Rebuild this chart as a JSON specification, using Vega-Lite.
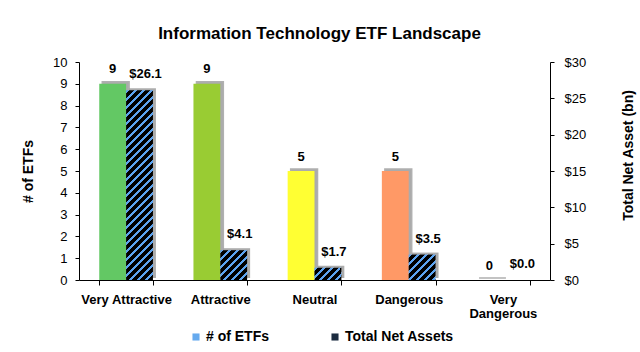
{
  "$schema": "https://vega.github.io/schema/vega-lite/v6.json",
  "width": 471,
  "height": 218,
  "autosize": {"type": "none"},
  "padding": {"left": 79, "top": 62, "right": 90, "bottom": 72},
  "background": "white",
  "title": {
    "text": "Information Technology ETF Landscape",
    "fontSize": 17,
    "fontWeight": "bold",
    "font": "Liberation Sans",
    "color": "#000000",
    "anchor": "middle",
    "dx": 5,
    "offset": 13
  },
  "data": {
    "values": [
      {"cat": "Very Attractive", "series": "# of ETFs", "value": 9},
      {"cat": "Attractive", "series": "# of ETFs", "value": 9},
      {"cat": "Neutral", "series": "# of ETFs", "value": 5},
      {"cat": "Dangerous", "series": "# of ETFs", "value": 5},
      {"cat": "Very Dangerous", "series": "# of ETFs", "value": 0},
      {"cat": "Very Attractive", "series": "Total Net Assets", "value": 26.1},
      {"cat": "Attractive", "series": "Total Net Assets", "value": 4.1},
      {"cat": "Neutral", "series": "Total Net Assets", "value": 1.7},
      {"cat": "Dangerous", "series": "Total Net Assets", "value": 3.5},
      {"cat": "Very Dangerous", "series": "Total Net Assets", "value": 0.0}
    ]
  },
  "encoding": {
    "x": {
      "field": "cat",
      "type": "nominal",
      "scale": {"domain": ["Very Attractive", "Attractive", "Neutral", "Dangerous", "Very Dangerous"], "paddingInner": 0.43, "paddingOuter": 0.215},
      "axis": {
        "title": null,
        "labelAngle": 0,
        "labelFontSize": 13,
        "labelFontWeight": "bold",
        "labelPadding": 8,
        "labelLineHeight": 14,
        "labelExpr": "datum.label == 'Very Dangerous' ? ['Very', 'Dangerous'] : datum.label",
        "tickBand": "extent",
        "tickSize": 5
      }
    }
  },
  "layer": [
    {
      "transform": [{"filter": "datum.series == '# of ETFs'"}],
      "encoding": {
        "y": {
          "field": "value",
          "type": "quantitative",
          "scale": {"domain": [0, 10], "nice": false},
          "axis": {
            "orient": "left",
            "values": [0, 1, 2, 3, 4, 5, 6, 7, 8, 9, 10],
            "labelFontSize": 13,
            "tickSize": 4,
            "labelPadding": 8,
            "title": "# of ETFs",
            "titleFontSize": 14,
            "titleFontWeight": "bold",
            "titlePadding": 17
          }
        }
      },
      "layer": [
        {
          "mark": {"type": "bar", "width": {"band": 0.5}, "fill": "#a3a3a3", "stroke": "#a8a8a8", "strokeWidth": 1.5, "xOffset": -10.4, "yOffset": -2, "opacity": 0.9}
        },
        {
          "mark": {"type": "bar"},
          "encoding": {
            "xOffset": {"field": "series", "type": "nominal", "scale": {"domain": ["# of ETFs", "Total Net Assets"], "paddingInner": 0, "paddingOuter": 0}},
            "fill": {
              "field": "cat",
              "type": "nominal",
              "scale": {"domain": ["Very Attractive", "Attractive", "Neutral", "Dangerous", "Very Dangerous"], "range": ["#63c864", "#99cc33", "#ffff33", "#ff9966", "#bfbfbf"]},
              "legend": null
            }
          }
        },
        {
          "mark": {"type": "text", "fontSize": 13, "fontWeight": "bold", "baseline": "alphabetic", "dy": -10.5, "color": "#000000"},
          "encoding": {
            "xOffset": {"field": "series", "type": "nominal", "scale": {"domain": ["# of ETFs", "Total Net Assets"], "paddingInner": 0, "paddingOuter": 0}},
            "text": {"field": "value", "type": "quantitative", "format": "d"}
          }
        }
      ]
    },
    {
      "transform": [{"filter": "datum.series == 'Total Net Assets'"}],
      "encoding": {
        "y": {
          "field": "value",
          "type": "quantitative",
          "scale": {"domain": [0, 30], "nice": false},
          "axis": {
            "orient": "right",
            "values": [0, 5, 10, 15, 20, 25, 30],
            "format": "$.0f",
            "labelFontSize": 13,
            "tickSize": 4,
            "labelPadding": 10,
            "title": "Total Net Asset (bn)",
            "titleFontSize": 14,
            "titleFontWeight": "bold",
            "titleAngle": 270,
            "titlePadding": 50,
            "titleY": 93
          }
        }
      },
      "layer": [
        {
          "mark": {"type": "bar", "opacity": 0},
          "encoding": {
            "xOffset": {"field": "series", "type": "nominal", "scale": {"domain": ["# of ETFs", "Total Net Assets"], "paddingInner": 0, "paddingOuter": 0}},
            "color": {
              "field": "series",
              "type": "nominal",
              "scale": {"domain": ["# of ETFs", "Total Net Assets"], "range": ["#66aaee", "#1c2c40"]},
              "legend": {
                "orient": "none",
                "legendX": 110,
                "legendY": 268,
                "direction": "horizontal",
                "title": null,
                "labelFontSize": 14,
                "labelFontWeight": "bold",
                "labelColor": "#000000",
                "symbolType": "square",
                "symbolSize": 50,
                "symbolOpacity": 1,
                "symbolStrokeWidth": 0,
                "labelOffset": 3,
                "columnPadding": 58
              }
            }
          }
        },
        {
          "mark": {"type": "bar", "width": {"band": 0.5}, "fill": "#a3a3a3", "xOffset": 16.4, "yOffset": -2, "opacity": 0.9}
        },
        {
          "mark": {"type": "bar"},
          "encoding": {
            "xOffset": {"field": "series", "type": "nominal", "scale": {"domain": ["# of ETFs", "Total Net Assets"], "paddingInner": 0, "paddingOuter": 0}},
            "fill": {
              "condition": [
                {
                  "test": "datum.cat == 'Very Attractive'",
                  "value": {
                    "gradient": "linear", "x1": 0, "y1": 0, "x2": 0.1648, "y2": 1.1576,
                    "stops": [
                      {"offset": 0, "color": "#5ca3f0"}, {"offset": 0.013393, "color": "#5ca3f0"}, {"offset": 0.013393, "color": "#000000"}, {"offset": 0.035714, "color": "#000000"},
                      {"offset": 0.035714, "color": "#5ca3f0"}, {"offset": 0.049107, "color": "#5ca3f0"}, {"offset": 0.049107, "color": "#000000"}, {"offset": 0.071429, "color": "#000000"},
                      {"offset": 0.071429, "color": "#5ca3f0"}, {"offset": 0.084821, "color": "#5ca3f0"}, {"offset": 0.084821, "color": "#000000"}, {"offset": 0.107143, "color": "#000000"},
                      {"offset": 0.107143, "color": "#5ca3f0"}, {"offset": 0.120536, "color": "#5ca3f0"}, {"offset": 0.120536, "color": "#000000"}, {"offset": 0.142857, "color": "#000000"},
                      {"offset": 0.142857, "color": "#5ca3f0"}, {"offset": 0.15625, "color": "#5ca3f0"}, {"offset": 0.15625, "color": "#000000"}, {"offset": 0.178571, "color": "#000000"},
                      {"offset": 0.178571, "color": "#5ca3f0"}, {"offset": 0.191964, "color": "#5ca3f0"}, {"offset": 0.191964, "color": "#000000"}, {"offset": 0.214286, "color": "#000000"},
                      {"offset": 0.214286, "color": "#5ca3f0"}, {"offset": 0.227679, "color": "#5ca3f0"}, {"offset": 0.227679, "color": "#000000"}, {"offset": 0.25, "color": "#000000"},
                      {"offset": 0.25, "color": "#5ca3f0"}, {"offset": 0.263393, "color": "#5ca3f0"}, {"offset": 0.263393, "color": "#000000"}, {"offset": 0.285714, "color": "#000000"},
                      {"offset": 0.285714, "color": "#5ca3f0"}, {"offset": 0.299107, "color": "#5ca3f0"}, {"offset": 0.299107, "color": "#000000"}, {"offset": 0.321429, "color": "#000000"},
                      {"offset": 0.321429, "color": "#5ca3f0"}, {"offset": 0.334821, "color": "#5ca3f0"}, {"offset": 0.334821, "color": "#000000"}, {"offset": 0.357143, "color": "#000000"},
                      {"offset": 0.357143, "color": "#5ca3f0"}, {"offset": 0.370536, "color": "#5ca3f0"}, {"offset": 0.370536, "color": "#000000"}, {"offset": 0.392857, "color": "#000000"},
                      {"offset": 0.392857, "color": "#5ca3f0"}, {"offset": 0.40625, "color": "#5ca3f0"}, {"offset": 0.40625, "color": "#000000"}, {"offset": 0.428571, "color": "#000000"},
                      {"offset": 0.428571, "color": "#5ca3f0"}, {"offset": 0.441964, "color": "#5ca3f0"}, {"offset": 0.441964, "color": "#000000"}, {"offset": 0.464286, "color": "#000000"},
                      {"offset": 0.464286, "color": "#5ca3f0"}, {"offset": 0.477679, "color": "#5ca3f0"}, {"offset": 0.477679, "color": "#000000"}, {"offset": 0.5, "color": "#000000"},
                      {"offset": 0.5, "color": "#5ca3f0"}, {"offset": 0.513393, "color": "#5ca3f0"}, {"offset": 0.513393, "color": "#000000"}, {"offset": 0.535714, "color": "#000000"},
                      {"offset": 0.535714, "color": "#5ca3f0"}, {"offset": 0.549107, "color": "#5ca3f0"}, {"offset": 0.549107, "color": "#000000"}, {"offset": 0.571429, "color": "#000000"},
                      {"offset": 0.571429, "color": "#5ca3f0"}, {"offset": 0.584821, "color": "#5ca3f0"}, {"offset": 0.584821, "color": "#000000"}, {"offset": 0.607143, "color": "#000000"},
                      {"offset": 0.607143, "color": "#5ca3f0"}, {"offset": 0.620536, "color": "#5ca3f0"}, {"offset": 0.620536, "color": "#000000"}, {"offset": 0.642857, "color": "#000000"},
                      {"offset": 0.642857, "color": "#5ca3f0"}, {"offset": 0.65625, "color": "#5ca3f0"}, {"offset": 0.65625, "color": "#000000"}, {"offset": 0.678571, "color": "#000000"},
                      {"offset": 0.678571, "color": "#5ca3f0"}, {"offset": 0.691964, "color": "#5ca3f0"}, {"offset": 0.691964, "color": "#000000"}, {"offset": 0.714286, "color": "#000000"},
                      {"offset": 0.714286, "color": "#5ca3f0"}, {"offset": 0.727679, "color": "#5ca3f0"}, {"offset": 0.727679, "color": "#000000"}, {"offset": 0.75, "color": "#000000"},
                      {"offset": 0.75, "color": "#5ca3f0"}, {"offset": 0.763393, "color": "#5ca3f0"}, {"offset": 0.763393, "color": "#000000"}, {"offset": 0.785714, "color": "#000000"},
                      {"offset": 0.785714, "color": "#5ca3f0"}, {"offset": 0.799107, "color": "#5ca3f0"}, {"offset": 0.799107, "color": "#000000"}, {"offset": 0.821429, "color": "#000000"},
                      {"offset": 0.821429, "color": "#5ca3f0"}, {"offset": 0.834821, "color": "#5ca3f0"}, {"offset": 0.834821, "color": "#000000"}, {"offset": 0.857143, "color": "#000000"},
                      {"offset": 0.857143, "color": "#5ca3f0"}, {"offset": 0.870536, "color": "#5ca3f0"}, {"offset": 0.870536, "color": "#000000"}, {"offset": 0.892857, "color": "#000000"},
                      {"offset": 0.892857, "color": "#5ca3f0"}, {"offset": 0.90625, "color": "#5ca3f0"}, {"offset": 0.90625, "color": "#000000"}, {"offset": 0.928571, "color": "#000000"},
                      {"offset": 0.928571, "color": "#5ca3f0"}, {"offset": 0.941964, "color": "#5ca3f0"}, {"offset": 0.941964, "color": "#000000"}, {"offset": 0.964286, "color": "#000000"},
                      {"offset": 0.964286, "color": "#5ca3f0"}, {"offset": 0.977679, "color": "#5ca3f0"}, {"offset": 0.977679, "color": "#000000"}, {"offset": 1, "color": "#000000"}
                    ]
                  }
                },
                {
                  "test": "datum.cat == 'Attractive'",
                  "value": {
                    "gradient": "linear", "x1": 0, "y1": 0, "x2": 1.069, "y2": 1.1795,
                    "stops": [
                      {"offset": 0, "color": "#5ca3f0"}, {"offset": 0.046875, "color": "#5ca3f0"}, {"offset": 0.046875, "color": "#000000"}, {"offset": 0.125, "color": "#000000"},
                      {"offset": 0.125, "color": "#5ca3f0"}, {"offset": 0.171875, "color": "#5ca3f0"}, {"offset": 0.171875, "color": "#000000"}, {"offset": 0.25, "color": "#000000"},
                      {"offset": 0.25, "color": "#5ca3f0"}, {"offset": 0.296875, "color": "#5ca3f0"}, {"offset": 0.296875, "color": "#000000"}, {"offset": 0.375, "color": "#000000"},
                      {"offset": 0.375, "color": "#5ca3f0"}, {"offset": 0.421875, "color": "#5ca3f0"}, {"offset": 0.421875, "color": "#000000"}, {"offset": 0.5, "color": "#000000"},
                      {"offset": 0.5, "color": "#5ca3f0"}, {"offset": 0.546875, "color": "#5ca3f0"}, {"offset": 0.546875, "color": "#000000"}, {"offset": 0.625, "color": "#000000"},
                      {"offset": 0.625, "color": "#5ca3f0"}, {"offset": 0.671875, "color": "#5ca3f0"}, {"offset": 0.671875, "color": "#000000"}, {"offset": 0.75, "color": "#000000"},
                      {"offset": 0.75, "color": "#5ca3f0"}, {"offset": 0.796875, "color": "#5ca3f0"}, {"offset": 0.796875, "color": "#000000"}, {"offset": 0.875, "color": "#000000"},
                      {"offset": 0.875, "color": "#5ca3f0"}, {"offset": 0.921875, "color": "#5ca3f0"}, {"offset": 0.921875, "color": "#000000"}, {"offset": 1, "color": "#000000"}
                    ]
                  }
                },
                {
                  "test": "datum.cat == 'Neutral'",
                  "value": {
                    "gradient": "linear", "x1": 0, "y1": 0, "x2": 1.2252, "y2": 0.5604,
                    "stops": [
                      {"offset": 0, "color": "#5ca3f0"}, {"offset": 0.075, "color": "#5ca3f0"}, {"offset": 0.075, "color": "#000000"}, {"offset": 0.2, "color": "#000000"},
                      {"offset": 0.2, "color": "#5ca3f0"}, {"offset": 0.275, "color": "#5ca3f0"}, {"offset": 0.275, "color": "#000000"}, {"offset": 0.4, "color": "#000000"},
                      {"offset": 0.4, "color": "#5ca3f0"}, {"offset": 0.475, "color": "#5ca3f0"}, {"offset": 0.475, "color": "#000000"}, {"offset": 0.6, "color": "#000000"},
                      {"offset": 0.6, "color": "#5ca3f0"}, {"offset": 0.675, "color": "#5ca3f0"}, {"offset": 0.675, "color": "#000000"}, {"offset": 0.8, "color": "#000000"},
                      {"offset": 0.8, "color": "#5ca3f0"}, {"offset": 0.875, "color": "#5ca3f0"}, {"offset": 0.875, "color": "#000000"}, {"offset": 1, "color": "#000000"}
                    ]
                  }
                }
              ],
              "value": {
                "gradient": "linear", "x1": 0, "y1": 0, "x2": 1.0991, "y2": 1.0352,
                "stops": [
                  {"offset": 0, "color": "#5ca3f0"}, {"offset": 0.053571, "color": "#5ca3f0"}, {"offset": 0.053571, "color": "#000000"}, {"offset": 0.142857, "color": "#000000"},
                  {"offset": 0.142857, "color": "#5ca3f0"}, {"offset": 0.196429, "color": "#5ca3f0"}, {"offset": 0.196429, "color": "#000000"}, {"offset": 0.285714, "color": "#000000"},
                  {"offset": 0.285714, "color": "#5ca3f0"}, {"offset": 0.339286, "color": "#5ca3f0"}, {"offset": 0.339286, "color": "#000000"}, {"offset": 0.428571, "color": "#000000"},
                  {"offset": 0.428571, "color": "#5ca3f0"}, {"offset": 0.482143, "color": "#5ca3f0"}, {"offset": 0.482143, "color": "#000000"}, {"offset": 0.571429, "color": "#000000"},
                  {"offset": 0.571429, "color": "#5ca3f0"}, {"offset": 0.625, "color": "#5ca3f0"}, {"offset": 0.625, "color": "#000000"}, {"offset": 0.714286, "color": "#000000"},
                  {"offset": 0.714286, "color": "#5ca3f0"}, {"offset": 0.767857, "color": "#5ca3f0"}, {"offset": 0.767857, "color": "#000000"}, {"offset": 0.857143, "color": "#000000"},
                  {"offset": 0.857143, "color": "#5ca3f0"}, {"offset": 0.910714, "color": "#5ca3f0"}, {"offset": 0.910714, "color": "#000000"}, {"offset": 1, "color": "#000000"}
                ]
              }
            }
          }
        },
        {
          "mark": {"type": "text", "fontSize": 13, "fontWeight": "bold", "baseline": "alphabetic", "dy": -12, "dx": 6, "color": "#000000"},
          "encoding": {
            "xOffset": {"field": "series", "type": "nominal", "scale": {"domain": ["# of ETFs", "Total Net Assets"], "paddingInner": 0, "paddingOuter": 0}},
            "text": {"field": "value", "type": "quantitative", "format": "$.1f"}
          }
        }
      ]
    }
  ],
  "resolve": {"scale": {"y": "independent"}, "axis": {"y": "independent"}},
  "config": {
    "font": "Liberation Sans",
    "view": {"stroke": null},
    "axis": {
      "grid": false,
      "domainColor": "#000000",
      "tickColor": "#000000",
      "labelColor": "#000000",
      "titleColor": "#000000",
      "labelFont": "Liberation Sans",
      "titleFont": "Liberation Sans"
    },
    "legend": {"labelFont": "Liberation Sans"},
    "text": {"font": "Liberation Sans"}
  }
}
